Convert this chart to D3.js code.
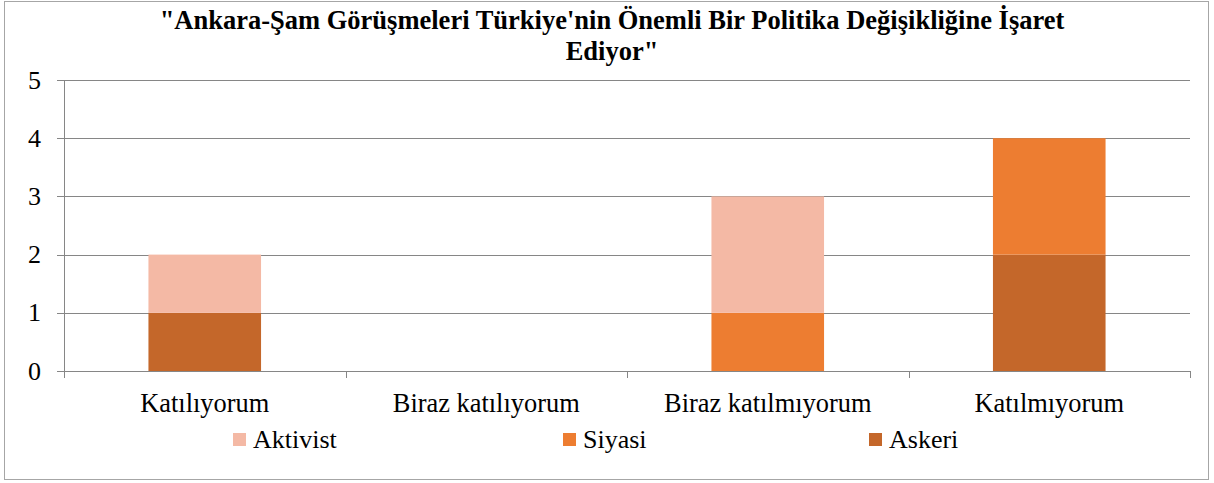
<!DOCTYPE html>
<html>
<head>
<meta charset="utf-8">
<style>
  #chart text { font-family: 'Liberation Serif', 'Times New Roman', Times, serif !important; fill: #000; }
</style>
<script src="https://cdn.jsdelivr.net/npm/d3@7.9.0/dist/d3.min.js"></script>
</head>
<body style="margin:0;background:#fff">
<svg id="chart" width="1214" height="483" font-family="'Liberation Serif', serif">
  <rect x="4.5" y="1.5" width="1204" height="478" fill="#fff" stroke="#A6A6A6"></rect>
  <text class="title" x="612" y="29" text-anchor="middle" style="font-family:'Liberation Serif';font-size:26.5px;font-weight:bold">"Ankara-Şam Görüşmeleri Türkiye'nin Önemli Bir Politika Değişikliğine İşaret</text>
  <text class="title" x="612" y="60" text-anchor="middle" style="font-family:'Liberation Serif';font-size:26.5px;font-weight:bold">Ediyor"</text>
</svg>
<script>
// veriler
const categories = ['Katılıyorum', 'Biraz katılıyorum', 'Biraz katılmıyorum', 'Katılmıyorum'];
const seriesNames = ['Askeri', 'Siyasi', 'Aktivist'];
const askeri = [1, 0, 0, 2];
const siyasi = [0, 0, 1, 2];
const aktivist = [1, 0, 2, 0];
const yTicks = [0, 1, 2, 3, 4, 5];
const legendOrder = ['Aktivist', 'Siyasi', 'Askeri'];
const titleLines = ["\"Ankara-Şam Görüşmeleri Türkiye'nin Önemli Bir Politika Değişikliğine İşaret", "Ediyor\""];

// yazı stili (Times benzeri)
const serif = size => `font-family:'Liberation Serif';font-size:${size}px;fill:#000`;

const colors = d3.scaleOrdinal()
  .domain(seriesNames)
  .range(['#C4672A', '#ED7D31', '#F4B9A5']);

const rows = categories.map((c, i) => ({
  cat: c, Askeri: askeri[i], Siyasi: siyasi[i], Aktivist: aktivist[i]
}));

const svg = d3.select('#chart');
const plotLeft = 64, plotRight = 1190, plotTop = 80, plotBottom = 371;

// başlık
svg.selectAll('text.title')
  .data(titleLines)
  .text(d => d);

const x = d3.scaleBand()
  .domain(categories)
  .range([plotLeft, plotRight])
  .paddingInner(0.6)
  .paddingOuter(0.3);

const y = d3.scaleLinear()
  .domain([0, 5])
  .range([plotBottom, plotTop]);

// ızgara
svg.append('g').selectAll('line')
  .data(yTicks)
  .join('line')
  .attr('x1', plotLeft - 7).attr('x2', plotRight)
  .attr('y1', d => Math.round(y(d)) + 0.5)
  .attr('y2', d => Math.round(y(d)) + 0.5)
  .attr('stroke', '#868686');

const stack = d3.stack().keys(seriesNames);
const layers = stack(rows);

svg.append('g').selectAll('g')
  .data(layers)
  .join('g')
  .attr('fill', d => colors(d.key))
  .selectAll('rect')
  .data(d => d)
  .join('rect')
  .attr('x', d => x(d.data.cat))
  .attr('width', x.bandwidth())
  .attr('y', d => y(d[1]))
  .attr('height', d => y(d[0]) - y(d[1]));

// y ekseni
svg.append('line')
  .attr('x1', plotLeft + 0.5).attr('x2', plotLeft + 0.5)
  .attr('y1', plotTop).attr('y2', plotBottom + 7)
  .attr('stroke', '#868686');

svg.append('g').selectAll('text')
  .data(yTicks)
  .join('text')
  .attr('x', 41)
  .attr('y', d => y(d) + 8.5)
  .attr('text-anchor', 'end')
  .attr('style', serif(26))
  .text(d => d);

// kategori ayırıcı çizgiler
const step = x.step();
const bounds = d3.range(categories.length + 1).map(i => plotLeft + i * step);
svg.append('g').selectAll('line')
  .data(bounds)
  .join('line')
  .attr('x1', d => Math.round(d) + 0.5).attr('x2', d => Math.round(d) + 0.5)
  .attr('y1', plotBottom).attr('y2', plotBottom + 7)
  .attr('stroke', '#868686');

svg.append('g').selectAll('text')
  .data(categories)
  .join('text')
  .attr('x', d => x(d) + x.bandwidth() / 2)
  .attr('y', 412)
  .attr('text-anchor', 'middle')
  .attr('style', serif(26.4))
  .text(d => d);

// lejant
const legendX = [233, 563, 869];
const legend = svg.append('g').selectAll('g')
  .data(legendOrder)
  .join('g')
  .attr('transform', (d, i) => `translate(${legendX[i]},0)`);
legend.append('rect')
  .attr('x', 0).attr('y', 433)
  .attr('width', 13).attr('height', 13)
  .attr('fill', d => colors(d));
legend.append('text')
  .attr('x', 20).attr('y', 448)
  .attr('style', serif(26))
  .text(d => d);
</script>
</body>
</html>
